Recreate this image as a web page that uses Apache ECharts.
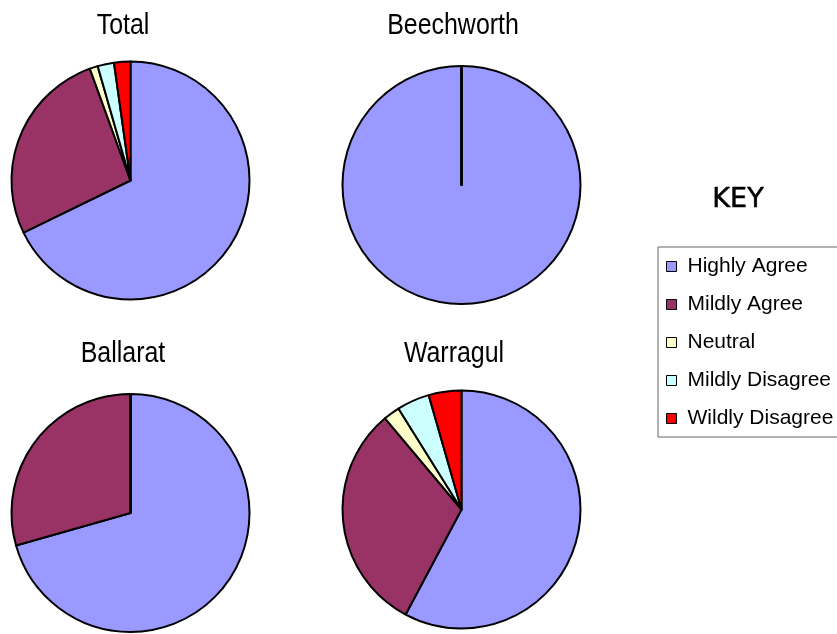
<!DOCTYPE html>
<html>
<head>
<meta charset="utf-8">
<script src="https://cdn.jsdelivr.net/npm/echarts@6/dist/echarts.min.js"></script>
<style>
  html, body { margin: 0; padding: 0; background: #fff; }
  #chart { width: 837px; height: 634px; }
</style>
</head>
<body>
<div id="chart"></div>
<script>
// Response categories (legend order, clockwise from 12 o'clock)
const categories = ['Highly Agree', 'Mildly Agree', 'Neutral', 'Mildly Disagree', 'Wildly Disagree'];

// Responses per site
const total      = [61, 24, 1, 2, 2];
const beechworth = [11, 0, 0, 0, 0];
const ballarat   = [24, 10, 0, 0, 0];
const warragul   = [26, 14, 1, 2, 2];

const palette = ['#9999FF', '#993366', '#FFFFCC', '#CCFFFF', '#FF0000'];

// Panel layout: pie centre and title anchor
const panels = [
  { name: 'Total',      values: total,      center: [130.5, 180.5], titleX: 123, titleY: 11 },
  { name: 'Beechworth', values: beechworth, center: [461.5, 185],   titleX: 453, titleY: 11 },
  { name: 'Ballarat',   values: ballarat,   center: [130.5, 513],   titleX: 123, titleY: 339 },
  { name: 'Warragul',   values: warragul,   center: [461.5, 509.5], titleX: 454, titleY: 339 }
];

const chart = echarts.init(document.getElementById('chart'), null, { renderer: 'canvas' });

// Condensed panel titles: regular sans squeezed horizontally
const titleGraphics = panels.map(p => ({
  type: 'text',
  x: p.titleX,
  y: p.titleY,
  scaleX: 0.86,
  silent: true,
  style: {
    text: p.name,
    x: 0,
    y: 0,
    align: 'center',
    verticalAlign: 'top',
    fontFamily: '"Liberation Sans", Arial, sans-serif',
    fontSize: 29,
    fill: '#000'
  }
}));

titleGraphics.push({
  type: 'text',
  x: 738,
  y: 186,
  silent: true,
  style: {
    text: 'KEY',
    x: 0,
    y: 0,
    align: 'center',
    verticalAlign: 'top',
    fontFamily: '"DejaVu Sans", Verdana, sans-serif',
    fontSize: 27,
    fill: '#000',
    stroke: '#000',
    lineWidth: 0.5
  }
});

const series = panels.map(p => ({
  name: p.name,
  type: 'pie',
  center: p.center,
  radius: [0, 119],
  startAngle: 90,
  clockwise: true,
  avoidLabelOverlap: false,
  silent: true,
  label: { show: false },
  labelLine: { show: false },
  itemStyle: { borderColor: '#000', borderWidth: 2 },
  emphasis: { disabled: true },
  data: categories.map((c, i) => ({ name: c, value: p.values[i] }))
}));

chart.setOption({
  animation: false,
  backgroundColor: '#fff',
  color: palette,
  graphic: titleGraphics,
  legend: {
    orient: 'vertical',
    left: 658,
    top: 247,
    padding: [9, 40, 8, 8],
    borderColor: '#666',
    borderWidth: 1,
    icon: 'rect',
    itemWidth: 10,
    itemHeight: 10,
    itemGap: 17,
    selectedMode: false,
    itemStyle: { borderColor: '#000', borderWidth: 1 },
    textStyle: {
      fontFamily: '"Liberation Sans", Arial, sans-serif',
      fontSize: 21,
      lineHeight: 20,
      color: '#000',
      padding: [0, 0, 0, 6]
    },
    data: categories
  },
  series: series
});
</script>
</body>
</html>
